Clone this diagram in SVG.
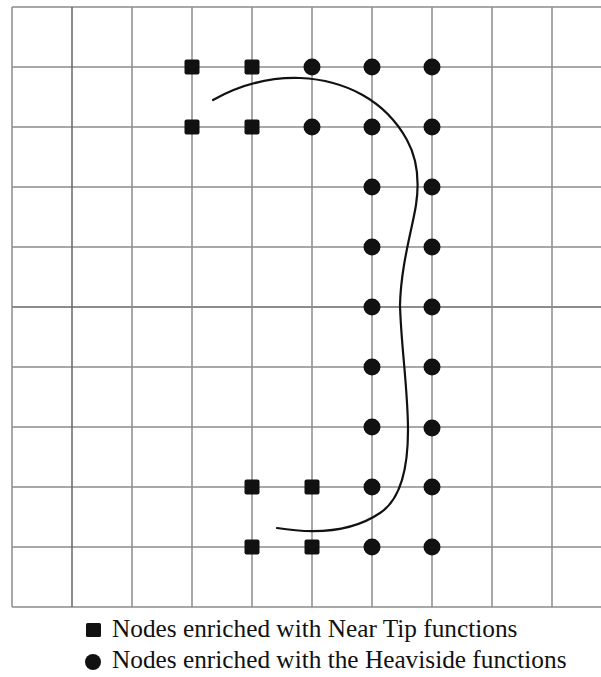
<svg xmlns="http://www.w3.org/2000/svg" width="601" height="677" viewBox="0 0 601 677">
<style>
.g{stroke:#8c8c8c;stroke-width:1.5;fill:none}
.gd{stroke:#666;stroke-width:1.5;fill:none}
.sq{fill:#111}
.ci{fill:#111}
.crack{fill:none;stroke:#111;stroke-width:2.2;stroke-linecap:round}
.t{font-family:"Liberation Serif","Times New Roman",serif;font-size:25.3px;fill:#111}
</style>
<defs>
<rect id="s" x="-7.5" y="-7.5" width="15" height="15" rx="2"/>
<circle id="c" r="8.5"/>
</defs>
<rect width="601" height="677" fill="#fff"/>
<g id="grid">
<path class="g" d="M12,7H601M12,67H601M12,127H601M12,187H601M12,247H601M12,367H601M12,427H601M12,487H601M12,547H601M12,607H601"/>
<path class="gd" d="M12,307H601"/>
<path class="g" d="M12,7V607M132,7V607M192,7V607M252,7V607M312,7V607M372,7V607M432,7V607M492,7V607M552,7V607"/>
<path class="gd" d="M72,7V607"/>
</g>
<g id="connectors">
<path class="crack" d="M213,100 C240,85 270,77 300,78 C345,80 385,100 407,140 C418,160 419,185 416,205 C412,230 401,265 400,305 C401,345 408,390 408,430 C408,470 400,500 380,513 C355,530 320,535 277,528"/>
</g>
<g id="near-tip-nodes" class="sq">
<use href="#s" x="192" y="67"/><use href="#s" x="252" y="67"/>
<use href="#s" x="192" y="127"/><use href="#s" x="252" y="127"/>
<use href="#s" x="252" y="487"/><use href="#s" x="312" y="487"/>
<use href="#s" x="252" y="547"/><use href="#s" x="312" y="547"/>
</g>
<g id="heaviside-nodes" class="ci">
<use href="#c" x="312" y="67"/><use href="#c" x="372" y="67"/><use href="#c" x="432" y="67"/>
<use href="#c" x="312" y="127"/><use href="#c" x="372" y="127"/><use href="#c" x="432" y="127"/>
<use href="#c" x="372" y="187"/><use href="#c" x="432" y="187"/>
<use href="#c" x="372" y="247"/><use href="#c" x="432" y="247"/>
<use href="#c" x="372" y="307"/><use href="#c" x="432" y="307"/>
<use href="#c" x="372" y="367"/><use href="#c" x="432" y="367"/>
<use href="#c" x="372" y="427"/><use href="#c" x="432" y="428"/>
<use href="#c" x="372" y="487"/><use href="#c" x="432" y="487"/>
<use href="#c" x="372" y="547"/><use href="#c" x="432" y="547"/>
</g>
<g id="legend">
<rect class="sq" x="86" y="623" width="15" height="14" rx="1.5"/>
<text class="t" x="112" y="637">Nodes enriched with Near Tip functions</text>
<circle class="ci" cx="93" cy="662" r="8"/>
<text class="t" x="112" y="668">Nodes enriched with the Heaviside functions</text>
</g>
</svg>
